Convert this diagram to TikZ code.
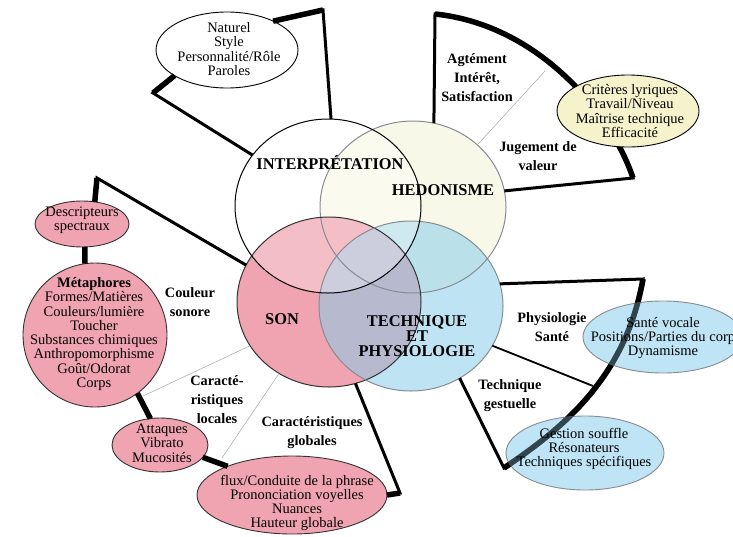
\documentclass[tikz,border=0pt]{standalone}
\usepackage{fontspec}
\setmainfont{Liberation Serif}
\usetikzlibrary{shapes.geometric}
\definecolor{pinkc}{RGB}{240,163,176}
\definecolor{bluet}{RGB}{135,205,235}
\definecolor{bluee}{RGB}{147,210,238}
\definecolor{creamc}{RGB}{248,248,233}
\definecolor{yellc}{RGB}{246,243,204}
\definecolor{grayo}{RGB}{135,140,145}
\definecolor{grayl}{RGB}{165,165,165}
\begin{document}
\begin{tikzpicture}[x=1pt,y=-1pt,
  ring/.style={ellipse, inner sep=0pt, outer sep=0pt},
  oval/.style={ellipse, inner sep=0pt, outer sep=0pt, line width=0.9pt},
  framel/.style={line width=3pt, line join=miter},
  heavy/.style={line width=5.5pt},
  divline/.style={line width=1.8pt},
  hair/.style={line width=0.5pt, draw=grayl},
  itxt/.style={font=\fontsize{14.5}{14.3}\selectfont, align=center, inner sep=0pt},
  sidelbl/.style={font=\fontsize{14.3}{19}\selectfont\bfseries, align=center, inner sep=0pt},
  lbl/.style={font=\fontsize{16.4}{15.2}\selectfont\bfseries, align=center, inner sep=0pt}]
\useasboundingbox (0,0) rectangle (733,536);
\clip (0,0) rectangle (733,536);

% circle fills
\fill[creamc] (413,207) ellipse [x radius=93pt, y radius=86pt];
\fill[pinkc] (329,302) ellipse [x radius=92pt, y radius=85pt];
\fill[bluet, fill opacity=0.54] (411,306) ellipse [x radius=92pt, y radius=85pt];
\fill[white, fill opacity=0.3] (328,206) ellipse [x radius=93pt, y radius=87pt];

% circle outlines
\node[ring, draw=grayo, line width=1pt, minimum width=186pt, minimum height=172pt] (H) at (413,207) {};
\node[ring, draw=black!80, line width=1pt, minimum width=184pt, minimum height=170pt] (S) at (329,302) {};
\node[ring, draw=grayo, line width=1pt, minimum width=184pt, minimum height=170pt] (T) at (411,306) {};
\node[ring, draw=black, line width=1pt, minimum width=186pt, minimum height=174pt] (I) at (328,206) {};

% corners
\coordinate (cTL1) at (323,10);
\coordinate (cTL2) at (153,93);
\coordinate (cTR1) at (435,14);
\coordinate (cTR2) at (633,178);
\coordinate (cR1) at (643,279);
\coordinate (cR2) at (504,468);
\coordinate (cL1) at (97,178);
\coordinate (cL2) at (400,493);
\coordinate (gA) at (545,71);
\coordinate (gB) at (143,396);
\coordinate (gC) at (222,458);
\coordinate (gD) at (593,386);

% right-hand frames
\draw[framel] (H.76) -- (cTR1) .. controls (540,25) and (612,115) .. (cTR2) -- (H.10);
\draw[heavy] (cTR1) .. controls (540,25) and (612,115) .. (cTR2);
\draw[framel] (T.14) -- (cR1) .. controls (625,380) and (560,430) .. (cR2) -- (T.-56);
\draw[heavy] (cR1) .. controls (625,380) and (560,430) .. (cR2);
\draw[hair] (H.44) -- (gA);
\draw[divline] (T.-26) -- (gD);

% ellipses
\node[oval, draw=black, fill=white, minimum width=142pt, minimum height=76pt] (N) at (227,50) {};
\node[oval, draw=black, fill=yellc, minimum width=142pt, minimum height=72pt] (C) at (628,111) {};
\node[oval, draw=black!80, fill=pinkc, minimum width=94pt, minimum height=46pt] (Dp) at (82,224) {};
\node[oval, draw=black!80, fill=pinkc, minimum width=144pt, minimum height=144pt] (M) at (95,335) {};
\node[oval, draw=black!80, fill=pinkc, minimum width=96pt, minimum height=54pt] (A) at (160,445) {};
\node[oval, draw=black!80, fill=pinkc, minimum width=190pt, minimum height=78pt] (F) at (292,495) {};
\node[oval, draw=grayo, fill=bluee, fill opacity=0.6, minimum width=160pt, minimum height=72pt] (Sv) at (663,337) {};
\node[oval, draw=grayo, fill=bluee, fill opacity=0.6, minimum width=158pt, minimum height=74pt] (G) at (585,453) {};

% left-hand frames
\draw[hair] (S.209) -- (gB);
\draw[hair] (S.235) -- (gC);
\draw[framel] (I.88) -- (cTL1) -- (N.32);
\draw[heavy] (cTL1) -- (N.32);
\draw[framel] (I.146) -- (cTL2) -- (N.206);
\draw[heavy] (cTL2) -- (N.206);
\draw[framel] (S.156) -- (cL1) -- (Dp.60);
\draw[heavy] (cL1) -- (Dp.60);
\draw[heavy] (Dp.-83) -- (M.98);
\draw[heavy] (M.-54) -- (A.110);
\draw[heavy] (A.-16) -- (F.156);
\draw[framel] (S.-72) -- (cL2) -- (F.0);
\draw[heavy] (cL2) -- (F.0);

% ellipse texts
\node[itxt] (tN) at (229,49) {Naturel\\Style\\Personnalité/Rôle\\Paroles};
\node[itxt] (tC) at (630,111) {Critères lyriques\\Travail/Niveau\\Maîtrise technique\\Efficacité};
\node[itxt] (tDp) at (82,220) {Descripteurs\\spectraux};
\node[itxt] (tM) at (94,334) {\textbf{Métaphores}\\Formes/Matières\\Couleurs/lumière\\Toucher\\Substances chimiques\\Anthropomorphisme\\Goût/Odorat\\Corps};
\node[itxt] (tA) at (162,443) {Attaques\\Vibrato\\Mucosités};
\node[itxt] (tF) at (297,503) {flux/Conduite de la phrase\\Prononciation voyelles\\Nuances\\Hauteur globale};
\node[itxt] (tSv) at (663,338) {Santé vocale\\Positions/Parties du corp\\Dynamisme};
\node[itxt] (tG) at (584,449) {Gestion souffle\\Résonateurs\\Techniques spécifiques};

% arc over the blue ellipses
\draw[heavy, draw opacity=0.45] (cR1) .. controls (625,380) and (560,430) .. (cR2);

% circle labels
\node[lbl] (tI) at (330,163) {INTERPRÉTATION};
\node[lbl] (tH) at (443,190) {HEDONISME};
\node[lbl] (tS) at (282,319) {SON};
\node[lbl] (tT) at (417,336) {TECHNIQUE\\ET\\PHYSIOLOGIE};

% sector labels
\node[sidelbl] (l1) at (477,78) {Agtément\\Intérêt,\\Satisfaction};
\node[sidelbl] (l2) at (538,156) {Jugement de\\valeur};
\node[sidelbl] (l3) at (190,302) {Couleur\\sonore};
\node[sidelbl] (l4) at (217,400) {Caracté-\\ristiques\\locales};
\node[sidelbl] (l5) at (312,433) {Caractéristiques\\globales};
\node[sidelbl] (l6) at (552,327) {Physiologie\\Santé};
\node[sidelbl] (l7) at (510,396) {Technique\\gestuelle};
\end{tikzpicture}
\end{document}
